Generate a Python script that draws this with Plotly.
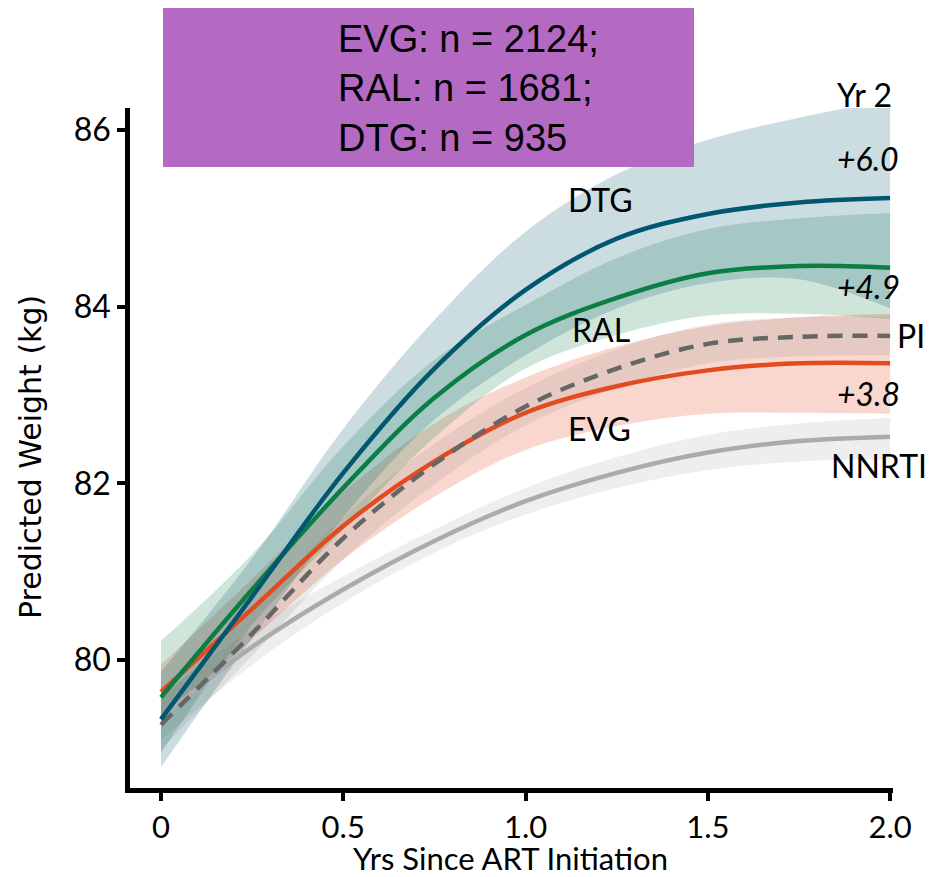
import plotly.graph_objects as go

# ---- data ----
years = [0, 0.25, 0.5, 0.75, 1.0, 1.25, 1.5, 1.75, 2.0]

dtg = [79.33, 80.72, 82.12, 83.30, 84.19, 84.77, 85.05, 85.18, 85.23]
dtg_hi = [79.87, 81.15, 82.62, 83.85, 84.85, 85.50, 85.89, 86.14, 86.34]
dtg_lo = [78.79, 80.25, 81.62, 82.72, 83.45, 83.98, 84.27, 84.31, 83.98]

ral = [79.58, 80.80, 81.95, 82.97, 83.68, 84.10, 84.38, 84.46, 84.44]
ral_hi = [80.22, 81.20, 82.42, 83.40, 84.02, 84.55, 84.88, 85.00, 85.06]
ral_lo = [78.95, 80.40, 81.48, 82.52, 83.30, 83.68, 83.90, 83.92, 83.86]

evg = [79.64, 80.58, 81.52, 82.25, 82.80, 83.10, 83.28, 83.36, 83.36]
evg_hi = [79.95, 80.92, 81.90, 82.68, 83.20, 83.55, 83.78, 83.88, 83.92]
evg_lo = [79.33, 80.24, 81.14, 81.85, 82.38, 82.65, 82.79, 82.80, 82.79]

pi = [79.27, 80.30, 81.38, 82.22, 82.87, 83.30, 83.58, 83.66, 83.67]
pi_hi = [79.55, 80.55, 81.62, 82.45, 83.08, 83.52, 83.80, 83.88, 83.89]
pi_lo = [78.99, 80.05, 81.14, 81.99, 82.66, 83.08, 83.36, 83.44, 83.45]

nnrti = [79.35, 80.15, 80.80, 81.35, 81.80, 82.12, 82.35, 82.48, 82.53]
nnrti_hi = [79.60, 80.35, 80.95, 81.48, 81.95, 82.30, 82.55, 82.68, 82.74]
nnrti_lo = [79.10, 79.95, 80.65, 81.22, 81.65, 81.95, 82.15, 82.25, 82.27]

x_tickvals = [0, 0.5, 1.0, 1.5, 2.0]
x_ticktext = ["0", "0.5", "1.0", "1.5", "2.0"]
y_tickvals = [80, 82, 84, 86]

box_text = ["EVG: n = 2124;", "RAL: n = 1681;", "DTG: n = 935"]

# label name, x, y, italic  (positions in data units)
labels = [
    ("Yr 2", 1.931, 86.40, False),
    ("+6.0", 1.94, 85.68, True),
    ("DTG", 1.207, 85.21, False),
    ("+4.9", 1.94, 84.23, True),
    ("RAL", 1.207, 83.74, False),
    ("PI", 2.058, 83.68, False),
    ("+3.8", 1.94, 83.02, True),
    ("EVG", 1.204, 82.62, False),
    ("NNRTI", 1.97, 82.20, False),
]

# ---- geometry (page has an 8px body margin) ----
OFF = 8
X_RANGE = [-0.085, 2.008]
Y_RANGE = [78.554, 86.249]
W, H = 943 - OFF, 877 - OFF
L, T = 130 - OFF, 108 - OFF
PW, PH = 763, 680
R, B = W - L - PW, H - T - PH


def px_x(px):
    return (px - OFF - L) / PW


def px_y(py):
    return (T + PH - (py - OFF)) / PH


def dx(v):
    return (v - X_RANGE[0]) / (X_RANGE[1] - X_RANGE[0])


def dy(v):
    return (v - Y_RANGE[0]) / (Y_RANGE[1] - Y_RANGE[0])


series = [
    ("NNRTI", nnrti, nnrti_lo, nnrti_hi, "#ABABAB", "rgba(170,170,170,0.20)", "solid"),
    ("EVG", evg, evg_lo, evg_hi, "#E24A1F", "rgba(226,74,31,0.22)", "solid"),
    ("PI", pi, pi_lo, pi_hi, "#666666", "rgba(110,110,110,0.13)", "dash"),
    ("RAL", ral, ral_lo, ral_hi, "#0C7E45", "rgba(14,126,69,0.20)", "solid"),
    ("DTG", dtg, dtg_lo, dtg_hi, "#00576F", "rgba(0,87,111,0.20)", "solid"),
]

fig = go.Figure()

for name, mid, lo, hi, col, fillcol, dash in series:
    fig.add_trace(go.Scatter(x=years, y=lo, mode="lines", line=dict(width=0, shape="spline"),
                             hoverinfo="skip", showlegend=False))
    fig.add_trace(go.Scatter(x=years, y=hi, mode="lines", line=dict(width=0, shape="spline"),
                             fill="tonexty", fillcolor=fillcol, hoverinfo="skip", showlegend=False))

for name, mid, lo, hi, col, fillcol, dash in series:
    fig.add_trace(go.Scatter(x=years, y=mid, mode="lines", name=name,
                             line=dict(color=col, width=4.5, shape="spline",
                                       dash="15px,10px" if dash == "dash" else "solid"),
                             showlegend=False))

label_font = "Lato, 'Open Sans', sans-serif"
for text, lx, ly, ital in labels:
    fig.add_annotation(x=dx(lx), y=dy(ly), xref="paper", yref="paper", text=text, showarrow=False,
                       xanchor="center", yanchor="middle",
                       font=dict(family=label_font, size=32, color="black",
                                 style="italic" if ital else "normal"))

# title box
fig.add_shape(type="rect", xref="paper", yref="paper",
              x0=px_x(163), x1=px_x(694), y0=px_y(167), y1=px_y(7),
              fillcolor="#B469C3", line=dict(width=0), layer="above")
fig.add_annotation(xref="paper", yref="paper", x=px_x(336), y=px_y(88),
                   text="<br>".join(box_text), showarrow=False, align="left",
                   xanchor="left", yanchor="middle",
                   font=dict(family="'Liberation Sans', Arial, sans-serif", size=38, color="black"))

# axis titles
fig.add_annotation(xref="paper", yref="paper", x=px_x(510), y=px_y(858),
                   text="Yrs Since ART Initiation", showarrow=False,
                   xanchor="center", yanchor="middle",
                   font=dict(family=label_font, size=31, color="black"))
fig.add_annotation(xref="paper", yref="paper", x=px_x(31), y=px_y(457),
                   text="Predicted Weight (kg)", showarrow=False, textangle=-90,
                   xanchor="center", yanchor="middle",
                   font=dict(family="'DejaVu Sans', sans-serif", size=30, color="black"))

fig.update_layout(
    width=W, height=H, autosize=False,
    margin=dict(l=L, r=R, t=T, b=B),
    plot_bgcolor="white", paper_bgcolor="white",
    showlegend=False,
    xaxis=dict(range=X_RANGE, tickvals=x_tickvals, ticktext=x_ticktext,
               showline=True, linewidth=4.5, linecolor="black",
               ticks="outside", ticklen=8, tickwidth=4, tickcolor="black",
               showgrid=False, zeroline=False, automargin=False,
               tickfont=dict(family=label_font, size=31, color="black")),
    yaxis=dict(range=Y_RANGE, tickvals=y_tickvals,
               showline=True, linewidth=4.5, linecolor="black",
               ticks="outside", ticklen=8, tickwidth=4, tickcolor="black",
               showgrid=False, zeroline=False, automargin=False,
               tickfont=dict(family=label_font, size=32, color="black")),
)

fig.write_html("out.html")
